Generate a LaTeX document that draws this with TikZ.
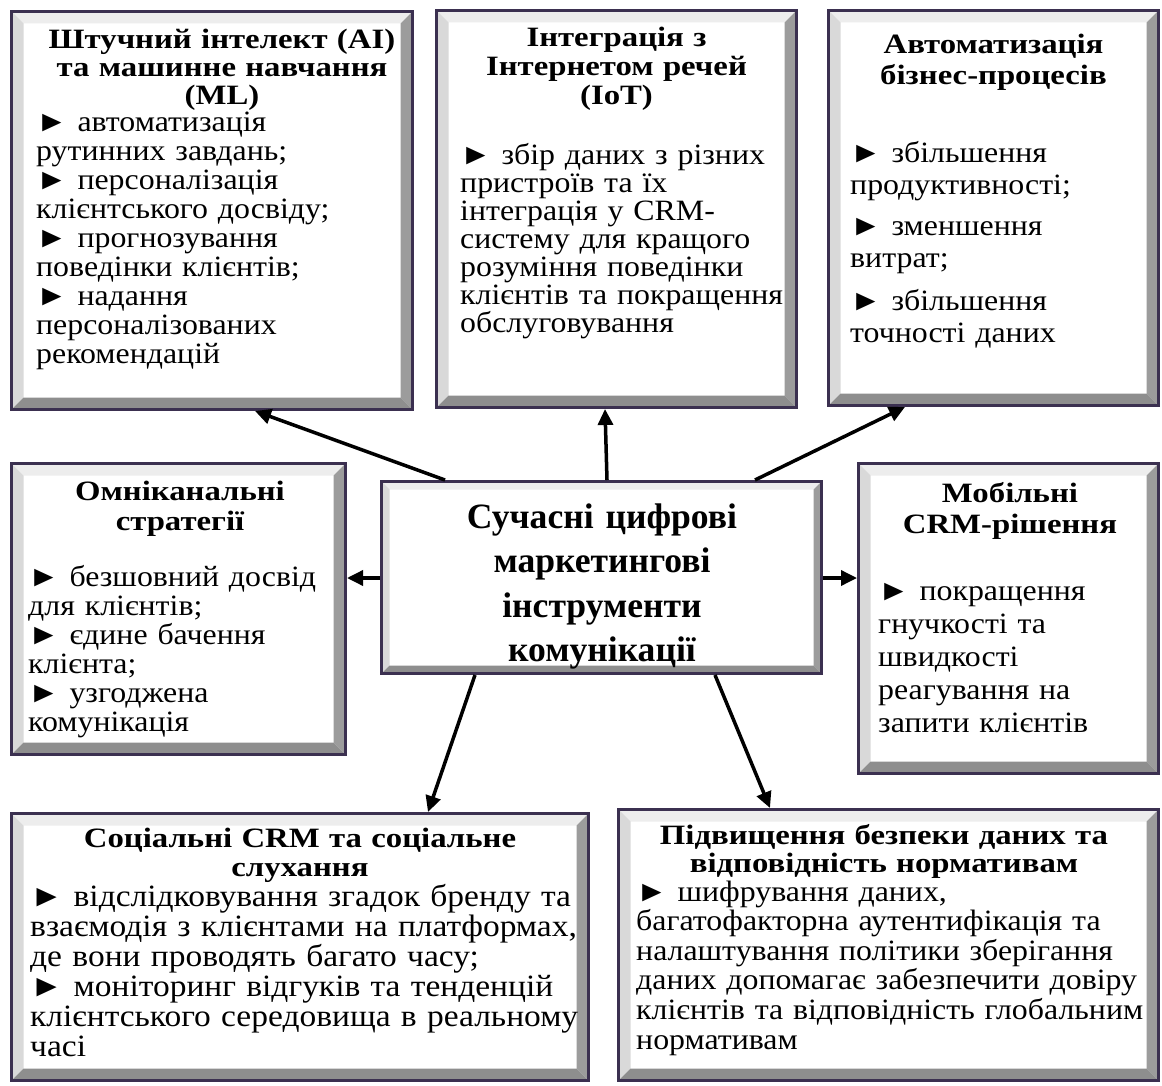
\documentclass[tikz,border=0pt]{standalone}
\usepackage{fontspec}
\setmainfont{Liberation Serif}
\newfontfamily\bodyfont[FakeStretch=1.08]{Liberation Serif}
\newfontfamily\titlefont[FakeStretch=1.17]{Liberation Serif}
\usetikzlibrary{arrows.meta}

\definecolor{framec}{HTML}{3B3050}
\definecolor{bevtop}{HTML}{EDEDED}
\definecolor{bevleft}{HTML}{D9D9D9}
\definecolor{bevright}{HTML}{9C9C9C}
\definecolor{bevbot}{HTML}{8E8E8E}

% bevel edges inside a framed box, #1 = bevel width
\newcommand\bevelfill[1]{%
  \path (path picture bounding box.north west) coordinate (bnw)
        (path picture bounding box.north east) coordinate (bne)
        (path picture bounding box.south west) coordinate (bsw)
        (path picture bounding box.south east) coordinate (bse);
  \fill[bevtop] (bnw) -- (bne) -- ([shift={(-#1,-#1)}]bne) -- ([shift={(#1,-#1)}]bnw) -- cycle;
  \fill[bevleft] (bnw) -- (bsw) -- ([shift={(#1,#1)}]bsw) -- ([shift={(#1,-#1)}]bnw) -- cycle;
  \fill[bevright] (bne) -- (bse) -- ([shift={(-#1,#1)}]bse) -- ([shift={(-#1,-#1)}]bne) -- cycle;
  \fill[bevbot] (bsw) -- (bse) -- ([shift={(-#1,#1)}]bse) -- ([shift={(#1,#1)}]bsw) -- cycle;
}

\tikzset{
  bevelbox/.style={draw=framec, line width=3pt, fill=white, inner sep=0pt,
    path picture={\bevelfill{#1}}},
  boxtitle/.style={font=\titlefont\fontsize{28}{28}\selectfont\bfseries, align=center,
    anchor=base, inner sep=0pt},
  boxbody/.style={font=\bodyfont\fontsize{29.5}{29}\selectfont, align=left,
    anchor=base west, inner sep=0pt},
  link/.style={line width=3.5pt, -{Triangle[length=16pt,width=15pt]}},
}

\begin{document}
\begin{tikzpicture}[x=1pt, y=-1pt]
  \useasboundingbox (0,0) rectangle (1162,1086);

  % ---- Top row ----
  \node[bevelbox=12pt, minimum width=401pt, minimum height=398pt] (ai) at (212,210.5) {};
  \node[boxtitle, text width=385pt] (aititle) at (222,49) {Штучний інтелект (AI)\\ та машинне навчання\\ (ML)};
  \node[boxbody, text width=370pt] (aibody) at (36,132) {► автоматизація\\ рутинних завдань;\\ ► персоналізація\\ клієнтського досвіду;\\ ► прогнозування\\ поведінки клієнтів;\\ ► надання\\ персоналізованих\\ рекомендацій};

  \node[bevelbox=12pt, minimum width=360pt, minimum height=397pt] (iot) at (616.5,209) {};
  \node[boxtitle, text width=336pt, font=\titlefont\fontsize{28}{29}\selectfont\bfseries] (iottitle) at (616.5,47) {Інтеграція з\\ Інтернетом речей\\ (IoT)};
  \node[boxbody, text width=330pt, font=\bodyfont\fontsize{29.5}{28}\selectfont] (iotbody) at (460,165) {► збір даних з різних\\ пристроїв та їх\\ інтеграція у CRM-\\ систему для кращого\\ розуміння поведінки\\ клієнтів та покращення\\ обслуговування};

  \node[bevelbox=12pt, minimum width=330pt, minimum height=395pt] (auto) at (993.5,208) {};
  \node[boxtitle, text width=306pt, font=\titlefont\fontsize{28}{31}\selectfont\bfseries] (autotitle) at (993.5,54) {Автоматизація\\ бізнес-процесів};
  \node[boxbody, text width=300pt, font=\bodyfont\fontsize{29.5}{32}\selectfont] (autobody) at (850,163) {► збільшення\\ продуктивності;\\[9pt] ► зменшення\\ витрат;\\[11pt] ► збільшення\\ точності даних};

  % ---- Middle row ----
  \node[bevelbox=12pt, minimum width=334pt, minimum height=291pt] (omni) at (178.5,609) {};
  \node[boxtitle, text width=310pt, font=\titlefont\fontsize{28}{30}\selectfont\bfseries] (omnititle) at (180,500) {Омніканальні\\ стратегії};
  \node[boxbody, text width=305pt] (omnibody) at (28,586) {► безшовний досвід\\ для клієнтів;\\ ► єдине бачення\\ клієнта;\\ ► узгоджена\\ комунікація};

  \node[bevelbox=8pt, minimum width=440pt, minimum height=192pt] (centre) at (601.5,577.5) {};
  \node[boxtitle, text width=420pt, font=\fontsize{35.6}{44.5}\selectfont\bfseries] (centretitle) at (602,528) {Сучасні цифрові\\ маркетингові\\ інструменти\\ комунікації};

  \node[bevelbox=12pt, minimum width=300pt, minimum height=310pt] (mobile) at (1008.5,618.5) {};
  \node[boxtitle, text width=276pt, font=\titlefont\fontsize{28}{31}\selectfont\bfseries] (mobiletitle) at (1010,502) {Мобільні\\ CRM-рішення};
  \node[boxbody, text width=270pt, font=\bodyfont\fontsize{29.5}{33}\selectfont] (mobilebody) at (878,600) {► покращення\\ гнучкості та\\ швидкості\\ реагування на\\ запити клієнтів};

  % ---- Bottom row ----
  \node[bevelbox=12pt, minimum width=577pt, minimum height=267pt] (social) at (300,947) {};
  \node[boxtitle, text width=553pt, font=\titlefont\fontsize{28}{29}\selectfont\bfseries] (socialtitle) at (300,847) {Соціальні CRM та соціальне\\ слухання};
  \node[boxbody, text width=565pt, font=\bodyfont\fontsize{31}{30}\selectfont] (socialbody) at (30,906) {► відслідковування згадок бренду та\\ взаємодія з клієнтами на платформах,\\ де вони проводять багато часу;\\ ► моніторинг відгуків та тенденцій\\ клієнтського середовища в реальному\\ часі};

  \node[bevelbox=12pt, minimum width=540pt, minimum height=271pt] (security) at (888.5,945) {};
  \node[boxtitle, text width=516pt] (securitytitle) at (884,844) {Підвищення безпеки даних та\\ відповідність нормативам};
  \node[boxbody, text width=520pt, font=\bodyfont\fontsize{29.5}{29.6}\selectfont] (securitybody) at (636,901) {► шифрування даних,\\ багатофакторна аутентифікація та\\ налаштування політики зберігання\\ даних допомагає забезпечити довіру\\ клієнтів та відповідність глобальним\\ нормативам};

  % ---- Connectors ----
  \draw[link] ([xshift=-156.5pt]centre.north) -- ([xshift=43pt]ai.south);
  \draw[link] ([xshift=5.5pt]centre.north) -- ([xshift=-11.5pt]iot.south);
  \draw[link] ([xshift=153.5pt]centre.north) -- ([xshift=-88.5pt]auto.south);
  \draw[link] ([yshift=-0.5pt]centre.west) -- ([yshift=31pt]omni.east);
  \draw[link] ([yshift=-0.5pt]centre.east) -- ([yshift=40.5pt]mobile.west);
  \draw[link] ([xshift=-126.5pt]centre.south) -- ([xshift=128pt]social.north);
  \draw[link] ([xshift=113.5pt]centre.south) -- ([xshift=-118.5pt]security.north);
\end{tikzpicture}
\end{document}
